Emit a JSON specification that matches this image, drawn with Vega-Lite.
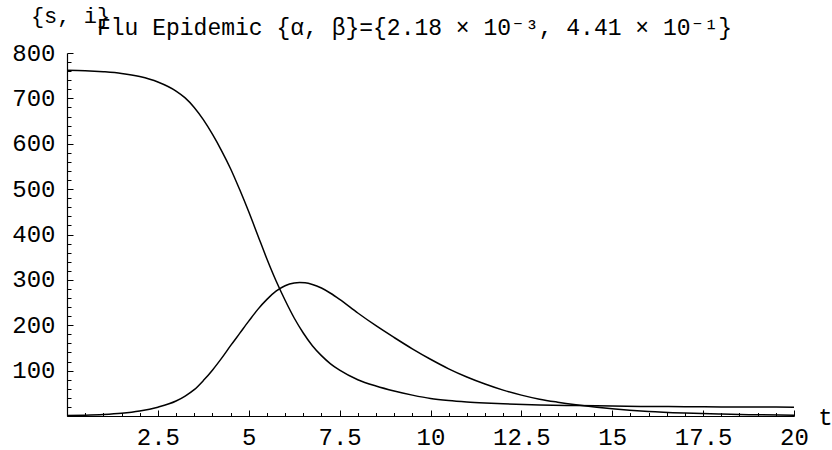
{
  "$schema": "https://vega.github.io/schema/vega-lite/v6.json",
  "autosize": {"type": "none"},
  "padding": {"left": 67, "top": 53, "right": 38, "bottom": 34},
  "width": 727,
  "height": 363,
  "background": "white",
  "config": {"view": {"stroke": null}},
  "title": {
    "text": "Flu Epidemic {α, β}={2.18 × 10⁻³, 4.41 × 10⁻¹}",
    "anchor": "start",
    "frame": "group",
    "font": "Liberation Mono, DejaVu Sans Mono",
    "fontSize": 23,
    "fontWeight": "normal",
    "color": "black",
    "baseline": "alphabetic",
    "offset": -54,
    "dx": 30
  },
  "data": {
    "values": [
      {"t": 0, "v": 762, "series": "s"},
      {"t": 0.5, "v": 761, "series": "s"},
      {"t": 1, "v": 758.7, "series": "s"},
      {"t": 1.5, "v": 755, "series": "s"},
      {"t": 2, "v": 748, "series": "s"},
      {"t": 2.5, "v": 736, "series": "s"},
      {"t": 3, "v": 716, "series": "s"},
      {"t": 3.25, "v": 701, "series": "s"},
      {"t": 3.5, "v": 680, "series": "s"},
      {"t": 3.75, "v": 653, "series": "s"},
      {"t": 4, "v": 621, "series": "s"},
      {"t": 4.25, "v": 585, "series": "s"},
      {"t": 4.5, "v": 545, "series": "s"},
      {"t": 4.75, "v": 499, "series": "s"},
      {"t": 5, "v": 450, "series": "s"},
      {"t": 5.25, "v": 398, "series": "s"},
      {"t": 5.5, "v": 346, "series": "s"},
      {"t": 5.75, "v": 298, "series": "s"},
      {"t": 6, "v": 255, "series": "s"},
      {"t": 6.25, "v": 216, "series": "s"},
      {"t": 6.5, "v": 183, "series": "s"},
      {"t": 6.75, "v": 155, "series": "s"},
      {"t": 7, "v": 133, "series": "s"},
      {"t": 7.25, "v": 115, "series": "s"},
      {"t": 7.5, "v": 101, "series": "s"},
      {"t": 8, "v": 80, "series": "s"},
      {"t": 8.5, "v": 66, "series": "s"},
      {"t": 9, "v": 55, "series": "s"},
      {"t": 9.5, "v": 46, "series": "s"},
      {"t": 10, "v": 38.5, "series": "s"},
      {"t": 10.5, "v": 34, "series": "s"},
      {"t": 11, "v": 31, "series": "s"},
      {"t": 11.5, "v": 28.8, "series": "s"},
      {"t": 12, "v": 27, "series": "s"},
      {"t": 13, "v": 24.5, "series": "s"},
      {"t": 14, "v": 23, "series": "s"},
      {"t": 15, "v": 22, "series": "s"},
      {"t": 16, "v": 21, "series": "s"},
      {"t": 17, "v": 20.5, "series": "s"},
      {"t": 18, "v": 20, "series": "s"},
      {"t": 19, "v": 19.7, "series": "s"},
      {"t": 20, "v": 19.5, "series": "s"},
      {"t": 0, "v": 1, "series": "i"},
      {"t": 0.5, "v": 1.8, "series": "i"},
      {"t": 1, "v": 3.3, "series": "i"},
      {"t": 1.5, "v": 6, "series": "i"},
      {"t": 2, "v": 11, "series": "i"},
      {"t": 2.5, "v": 19.5, "series": "i"},
      {"t": 3, "v": 33, "series": "i"},
      {"t": 3.25, "v": 44, "series": "i"},
      {"t": 3.5, "v": 58, "series": "i"},
      {"t": 3.75, "v": 78, "series": "i"},
      {"t": 4, "v": 101, "series": "i"},
      {"t": 4.25, "v": 127, "series": "i"},
      {"t": 4.5, "v": 155, "series": "i"},
      {"t": 4.75, "v": 182, "series": "i"},
      {"t": 5, "v": 209, "series": "i"},
      {"t": 5.25, "v": 235, "series": "i"},
      {"t": 5.5, "v": 257, "series": "i"},
      {"t": 5.75, "v": 275, "series": "i"},
      {"t": 6, "v": 287, "series": "i"},
      {"t": 6.25, "v": 293, "series": "i"},
      {"t": 6.4, "v": 294, "series": "i"},
      {"t": 6.55, "v": 293.5, "series": "i"},
      {"t": 6.75, "v": 290, "series": "i"},
      {"t": 7, "v": 282, "series": "i"},
      {"t": 7.25, "v": 270.5, "series": "i"},
      {"t": 7.5, "v": 257, "series": "i"},
      {"t": 8, "v": 227, "series": "i"},
      {"t": 8.5, "v": 199, "series": "i"},
      {"t": 9, "v": 173, "series": "i"},
      {"t": 9.5, "v": 148, "series": "i"},
      {"t": 10, "v": 125, "series": "i"},
      {"t": 10.5, "v": 104, "series": "i"},
      {"t": 11, "v": 86, "series": "i"},
      {"t": 11.5, "v": 70.5, "series": "i"},
      {"t": 12, "v": 57, "series": "i"},
      {"t": 12.5, "v": 46, "series": "i"},
      {"t": 13, "v": 37, "series": "i"},
      {"t": 13.5, "v": 30.5, "series": "i"},
      {"t": 14, "v": 25, "series": "i"},
      {"t": 15, "v": 16, "series": "i"},
      {"t": 16, "v": 10, "series": "i"},
      {"t": 17, "v": 6.5, "series": "i"},
      {"t": 18, "v": 4.2, "series": "i"},
      {"t": 19, "v": 2.7, "series": "i"},
      {"t": 20, "v": 1.7, "series": "i"}
    ]
  },
  "mark": {"type": "line", "color": "black", "strokeWidth": 1.5, "interpolate": "monotone"},
  "encoding": {
    "x": {
      "field": "t",
      "type": "quantitative",
      "scale": {"domain": [0, 20], "nice": false, "zero": false},
      "axis": {
        "title": "t",
        "titleFont": "Liberation Mono",
        "titleFontSize": 24,
        "titleFontWeight": "normal",
        "titleColor": "black",
        "titleAngle": 0,
        "titleX": 758,
        "titleY": 1,
        "titleAlign": "center",
        "titleBaseline": "middle",
        "values": [0,0.5,1,1.5,2,2.5,3,3.5,4,4.5,5,5.5,6,6.5,7,7.5,8,8.5,9,9.5,10,10.5,11,11.5,12,12.5,13,13.5,14,14.5,15,15.5,16,16.5,17,17.5,18,18.5,19,19.5,20],
        "labelExpr": "(datum.value % 2.5 == 0 && datum.value > 0) ? ('' + datum.value) : ''",
        "labelFont": "Liberation Mono",
        "labelFontSize": 24,
        "labelColor": "black",
        "labelPadding": 9,
        "labelFlush": false,
        "labelOverlap": false,
        "domain": true,
        "domainColor": "black",
        "domainWidth": 1.2,
        "ticks": false,
        "grid": true,
        "gridColor": "black",
        "gridOpacity": 1,
        "gridWidth": 1,
        "gridDash": {"condition": {"test": "datum.value % 2.5 == 0", "value": [0, 357, 6, 100]}, "value": [0, 359.5, 3.5, 100]}
      }
    },
    "y": {
      "field": "v",
      "type": "quantitative",
      "scale": {"domain": [0, 800], "nice": false},
      "axis": {
        "title": "{s, i}",
        "titleFont": "Liberation Mono",
        "titleFontSize": 22,
        "titleFontWeight": "normal",
        "titleColor": "black",
        "titleAngle": 0,
        "titleX": 3,
        "titleY": -38,
        "titleAlign": "center",
        "titleBaseline": "middle",
        "values": [20,40,60,80,100,120,140,160,180,200,220,240,260,280,300,320,340,360,380,400,420,440,460,480,500,520,540,560,580,600,620,640,660,680,700,720,740,760,780,800],
        "labelExpr": "(datum.value % 100 == 0) ? ('' + datum.value) : ''",
        "labelFont": "Liberation Mono",
        "labelFontSize": 24,
        "labelColor": "black",
        "labelPadding": 12,
        "labelFlush": false,
        "labelOverlap": false,
        "domain": true,
        "domainColor": "black",
        "domainWidth": 1.2,
        "ticks": false,
        "grid": true,
        "gridColor": "black",
        "gridOpacity": 1,
        "gridWidth": 1,
        "gridDash": {"condition": {"test": "datum.value % 100 == 0", "value": [6, 2000]}, "value": [4, 2000]}
      }
    },
    "detail": {"field": "series", "type": "nominal"}
  }
}
